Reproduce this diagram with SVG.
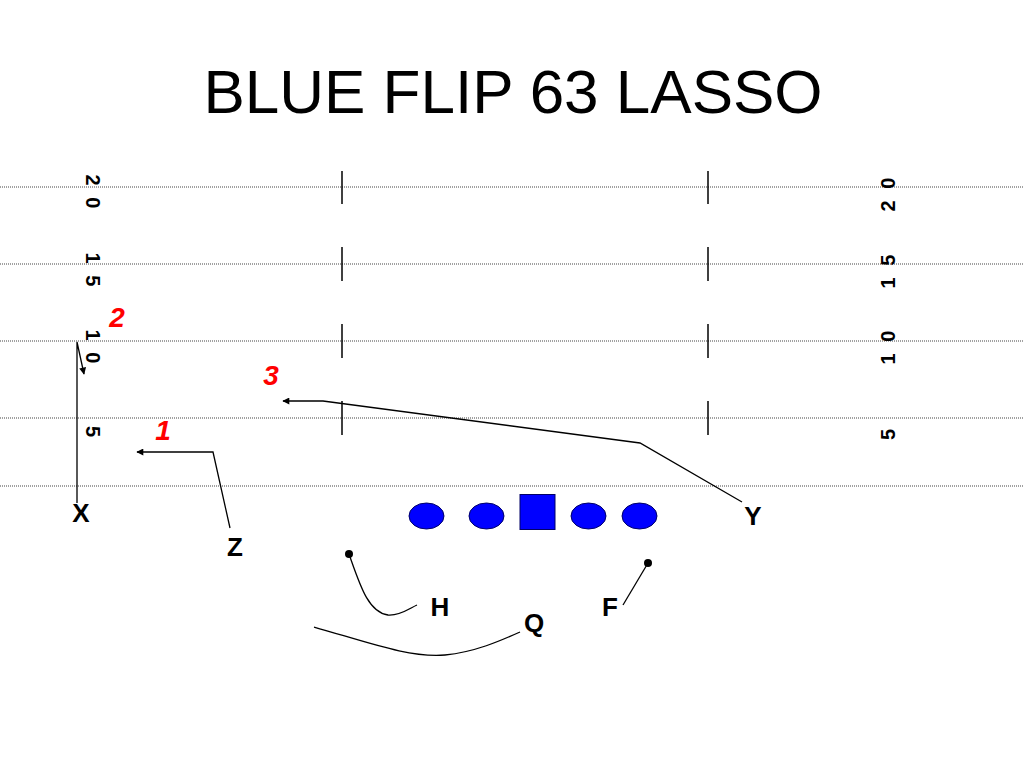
<svg xmlns="http://www.w3.org/2000/svg" width="1024" height="768" viewBox="0 0 1024 768">
<defs>
<style>
.yl{stroke:#444;stroke-width:1.2;stroke-dasharray:1 1;fill:none}
.hm{stroke:#000;stroke-width:1.5}
.num{font-family:"Liberation Sans",Arial,sans-serif;font-size:20px;font-weight:bold;fill:#000;text-anchor:middle;letter-spacing:3px}
.lbl{font-family:"Liberation Sans",Arial,sans-serif;font-size:26px;font-weight:bold;fill:#000;text-anchor:middle}
.red{font-family:"Liberation Sans",Arial,sans-serif;font-size:28px;font-weight:bold;font-style:italic;fill:#FF0000;text-anchor:middle}
.rt{stroke:#000;stroke-width:1.3;fill:none}
.ln{fill:#0000FF;stroke:#000066;stroke-width:1}
</style>
<marker id="ah" viewBox="0 0 10 10" refX="9" refY="5" markerWidth="9" markerHeight="7" markerUnits="userSpaceOnUse" orient="auto">
<path d="M0,0 L10,5 L0,10 z" fill="#000"/>
</marker>
</defs>
<rect width="1024" height="768" fill="#fff"/>
<text x="513" y="113" font-family="'Liberation Sans',Arial,sans-serif" font-size="62" text-anchor="middle" fill="#000">BLUE FLIP 63 LASSO</text>
<g id="field">
<line class="yl" x1="0" y1="187" x2="1024" y2="187"/>
<line class="yl" x1="0" y1="264" x2="1024" y2="264"/>
<line class="yl" x1="0" y1="341" x2="1024" y2="341"/>
<line class="yl" x1="0" y1="418" x2="1024" y2="418"/>
<line class="yl" x1="0" y1="486" x2="1024" y2="486"/>
<line class="hm" x1="342" y1="171" x2="342" y2="204"/>
<line class="hm" x1="342" y1="247" x2="342" y2="281"/>
<line class="hm" x1="342" y1="324" x2="342" y2="358"/>
<line class="hm" x1="342" y1="401" x2="342" y2="435"/>
<line class="hm" x1="708" y1="171" x2="708" y2="204"/>
<line class="hm" x1="708" y1="247" x2="708" y2="281"/>
<line class="hm" x1="708" y1="324" x2="708" y2="358"/>
<line class="hm" x1="708" y1="401" x2="708" y2="435"/>
<text class="num" transform="translate(86,193) rotate(90)">2 0</text>
<text class="num" transform="translate(86,271) rotate(90)">1 5</text>
<text class="num" transform="translate(86,348) rotate(90)">1 0</text>
<text class="num" transform="translate(86,433) rotate(90)">5</text>
<text class="num" transform="translate(895,193) rotate(-90)">2 0</text>
<text class="num" transform="translate(895,270) rotate(-90)">1 5</text>
<text class="num" transform="translate(895,346) rotate(-90)">1 0</text>
<text class="num" transform="translate(895,433) rotate(-90)">5</text>
</g>
<g id="connectors">
<polyline class="rt" points="77,503 77,342 84,374" marker-end="url(#ah)"/>
<polyline class="rt" points="230,528 213,452 137,452" marker-end="url(#ah)"/>
<polyline class="rt" points="742,502 640,443 323,401 283,401" marker-end="url(#ah)"/>
<path class="rt" d="M349,554 C360,585 368,612 388,615 C400,616 410,608 417,605"/>
<line class="rt" x1="648" y1="563" x2="623" y2="605"/>
<path class="rt" d="M314,627 C370,643 410,658 445,655 C475,652 500,641 520,632"/>
<circle cx="349" cy="554" r="4" fill="#000"/>
<circle cx="648" cy="563" r="4" fill="#000"/>
</g>
<g id="oline">
<ellipse class="ln" cx="426.5" cy="516" rx="17.5" ry="13"/>
<ellipse class="ln" cx="486.5" cy="516" rx="17.5" ry="13"/>
<rect class="ln" x="520" y="494.5" width="35" height="35"/>
<ellipse class="ln" cx="588.5" cy="516" rx="17.5" ry="13"/>
<ellipse class="ln" cx="639.5" cy="516" rx="17.5" ry="13"/>
</g>
<g id="node-X"><text class="lbl" x="81" y="522">X</text></g>
<g id="node-Z"><text class="lbl" x="235" y="556">Z</text></g>
<g id="node-H"><text class="lbl" x="440" y="616">H</text></g>
<g id="node-F"><text class="lbl" x="610" y="616">F</text></g>
<g id="node-Q"><text class="lbl" x="534" y="632">Q</text></g>
<g id="node-Y"><text class="lbl" x="753" y="525">Y</text></g>
<g id="read-1"><text class="red" x="163" y="440">1</text></g>
<g id="read-2"><text class="red" x="117" y="327">2</text></g>
<g id="read-3"><text class="red" x="271" y="385">3</text></g>
</svg>
